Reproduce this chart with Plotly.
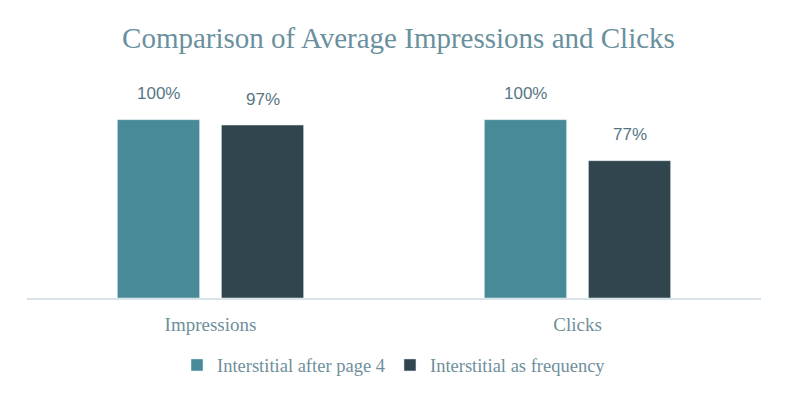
import plotly.graph_objects as go

categories = ["Impressions", "Clicks"]
series_names = ["Interstitial after page 4", "Interstitial as frequency"]
after_page4 = [100, 100]
as_frequency = [97, 77]
colors = ["#488A98", "#30454D"]

fig = go.Figure()
for name, vals, col in zip(series_names, [after_page4, as_frequency], colors):
    fig.add_trace(go.Bar(
        name=name, x=categories, y=vals, marker_color=col,
        textposition="none", hoverinfo="skip",
    ))

# data labels placed above each bar (offset within group)
offsets = [-0.5, 0.5]
group_w = 1 - 0.433
for vals, off in zip([after_page4, as_frequency], offsets):
    for j, v in enumerate(vals):
        fig.add_annotation(
            x=j + off * group_w / 2, y=v, xref="x", yref="y",
            text=f"{v}%", showarrow=False, yshift=26,
            font=dict(family="Liberation Sans, Arial, sans-serif", size=17, color="#587585"),
        )

fig.update_layout(
    width=781, height=389,
    barmode="group", bargap=0.433, bargroupgap=0.21,
    plot_bgcolor="white", paper_bgcolor="white",
    margin=dict(l=19, r=28, t=76, b=94),
    title=dict(text="Comparison of Average Impressions and Clicks",
               x=0.5, xanchor="center", y=0.923, yanchor="middle",
               font=dict(family="Liberation Serif, Times New Roman, serif", size=29, color="#6A909E")),
    xaxis=dict(showline=True, linecolor="#D9E4EA", linewidth=2,
               ticks="outside", ticklen=8, tickcolor="rgba(0,0,0,0)",
               tickfont=dict(family="Liberation Serif, Times New Roman, serif", size=19, color="#6F8F9B")),
    yaxis=dict(range=[0, 120], visible=False, showgrid=False, zeroline=False),
    legend=dict(orientation="h", x=0.5, xanchor="center", y=-0.315, yanchor="middle",
                font=dict(family="Liberation Serif, Times New Roman, serif", size=18.5, color="#6F8F9B"),
                itemwidth=30, traceorder="normal"),
    showlegend=True,
)
fig.write_html("out.html")
